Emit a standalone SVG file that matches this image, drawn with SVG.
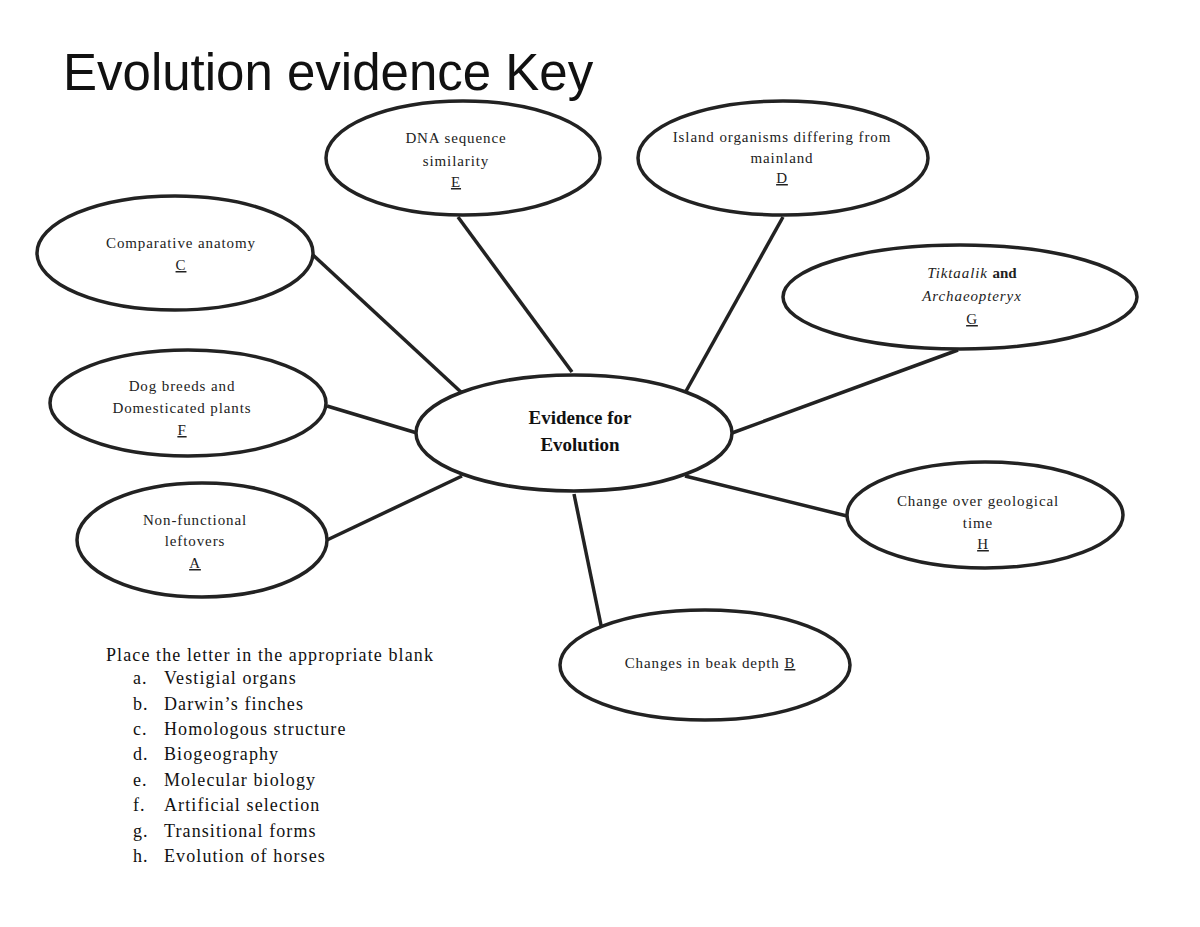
<svg xmlns="http://www.w3.org/2000/svg" width="1200" height="927" viewBox="0 0 1200 927">
<style>
.n{fill:#fff;stroke:#222;stroke-width:3.5}
.t{font-family:"Liberation Serif",serif;font-size:15px;letter-spacing:0.9px;fill:#222;text-anchor:middle}
.u{text-decoration:underline}
.c line{stroke:#222;stroke-width:3.5}
.l{font-family:"Liberation Serif",serif;font-size:18px;letter-spacing:1.1px;fill:#111}
.b{font-family:"Liberation Serif",serif;font-size:19px;font-weight:bold;fill:#111;text-anchor:middle}
</style>
<rect width="1200" height="927" fill="#fff"/>
<text x="63" y="90" font-family="Liberation Sans,sans-serif" font-size="51" fill="#111">Evolution evidence Key</text>
<g class="c">
<line x1="313" y1="255" x2="462" y2="393"/>
<line x1="458" y1="217" x2="572" y2="372"/>
<line x1="783" y1="217" x2="685" y2="393"/>
<line x1="958" y1="350" x2="732" y2="433"/>
<line x1="327" y1="406" x2="417" y2="433"/>
<line x1="327" y1="540" x2="462" y2="476"/>
<line x1="685" y1="476" x2="847" y2="516"/>
<line x1="574" y1="494" x2="602" y2="630"/>
</g>
<g id="center"><ellipse class="n" cx="574" cy="433" rx="158" ry="58"/>
<text class="b" x="580" y="424">Evidence for</text>
<text class="b" x="580" y="451">Evolution</text></g>
<g id="E"><ellipse class="n" cx="463" cy="158" rx="137" ry="57"/>
<text class="t" x="456" y="143">DNA sequence</text><text class="t" x="456" y="166">similarity</text><text class="t u" x="456" y="187">E</text></g>
<g id="D"><ellipse class="n" cx="783" cy="158" rx="145" ry="57"/>
<text class="t" x="782" y="142">Island organisms differing from</text><text class="t" x="782" y="163">mainland</text><text class="t u" x="782" y="183">D</text></g>
<g id="C"><ellipse class="n" cx="175" cy="253" rx="138" ry="57"/>
<text class="t" x="181" y="248">Comparative anatomy</text><text class="t u" x="181" y="270">C</text></g>
<g id="G"><ellipse class="n" cx="960" cy="297" rx="177" ry="52"/>
<text class="t" x="972" y="278"><tspan font-style="italic">Tiktaalik</tspan> <tspan style="font-weight:bold;letter-spacing:0">and</tspan></text><text class="t" x="972" y="301" font-style="italic">Archaeopteryx</text><text class="t u" x="972" y="324">G</text></g>
<g id="F"><ellipse class="n" cx="188" cy="403" rx="138" ry="53"/>
<text class="t" x="182" y="391">Dog breeds and</text><text class="t" x="182" y="413">Domesticated plants</text><text class="t u" x="182" y="435">F</text></g>
<g id="A"><ellipse class="n" cx="202" cy="540" rx="125" ry="57"/>
<text class="t" x="195" y="525">Non-functional</text><text class="t" x="195" y="546">leftovers</text><text class="t u" x="195" y="568">A</text></g>
<g id="H"><ellipse class="n" cx="985" cy="515" rx="138" ry="53"/>
<text class="t" x="978" y="506">Change over geological</text><text class="t" x="978" y="528">time</text><text class="t u" x="983" y="549">H</text></g>
<g id="B"><ellipse class="n" cx="705" cy="665" rx="145" ry="55"/>
<text class="t" x="710" y="668">Changes in beak depth  <tspan class="u">B</tspan></text></g>
<g class="l">
<text x="106" y="661">Place the letter in the appropriate blank</text>
<text x="133" y="684">a.</text><text x="164" y="684">Vestigial organs</text>
<text x="133" y="710">b.</text><text x="164" y="710">Darwin’s finches</text>
<text x="133" y="735">c.</text><text x="164" y="735">Homologous structure</text>
<text x="133" y="760">d.</text><text x="164" y="760">Biogeography</text>
<text x="133" y="786">e.</text><text x="164" y="786">Molecular biology</text>
<text x="133" y="811">f.</text><text x="164" y="811">Artificial selection</text>
<text x="133" y="837">g.</text><text x="164" y="837">Transitional forms</text>
<text x="133" y="862">h.</text><text x="164" y="862">Evolution of horses</text>
</g>
</svg>
